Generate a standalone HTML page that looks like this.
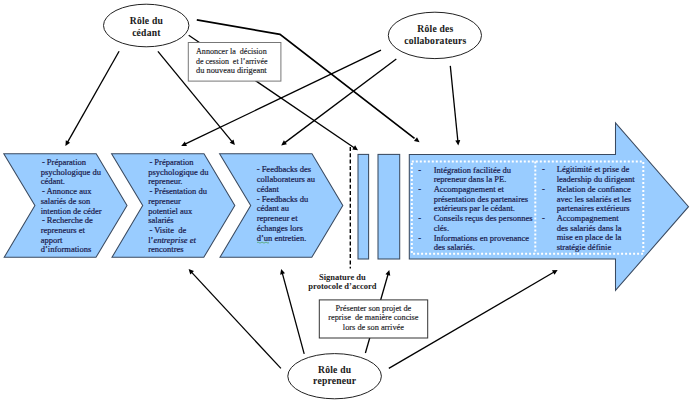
<!DOCTYPE html>
<html><head><meta charset="utf-8"><style>
html,body{margin:0;padding:0;background:#fff;width:692px;height:402px;overflow:hidden}
svg{display:block;font-family:"Liberation Serif",serif}
</style></head><body>
<svg width="692" height="402" viewBox="0 0 692 402">
<rect width="692" height="402" fill="#fff"/>
<polygon points="409.3,154.5 615.5,154.5 615.5,123 688.5,206.7 615.5,290.4 615.5,259 409.3,259" fill="#99ccff" stroke="#3a4a60" stroke-width="1.05" stroke-linejoin="miter"/>
<polygon points="3.8,153.7 96.2,153.7 127,205.5 96,257.3 4.2,257.3 34.9,205.5" fill="#99ccff" stroke="#3a4a60" stroke-width="1.05" stroke-linejoin="miter"/>
<polygon points="111.6,153.7 204.0,153.7 234.8,205.5 203.8,257.3 112.0,257.3 142.7,205.5" fill="#99ccff" stroke="#3a4a60" stroke-width="1.05" stroke-linejoin="miter"/>
<polygon points="219.60000000000002,153.7 312.0,153.7 342.8,205.5 311.8,257.3 220.0,257.3 250.70000000000002,205.5" fill="#99ccff" stroke="#3a4a60" stroke-width="1.05" stroke-linejoin="miter"/>
<rect x="358" y="154.4" width="10.6" height="104.6" fill="#99ccff" stroke="#3a4a60" stroke-width="1.05"/>
<rect x="378" y="154.4" width="21.7" height="104.6" fill="#99ccff" stroke="#3a4a60" stroke-width="1.05"/>
<rect x="411.8" y="161.4" width="231.5" height="92.3" fill="none" stroke="#fff" stroke-width="2" stroke-dasharray="2 2"/>
<line x1="535.3" y1="161.4" x2="535.3" y2="253.7" stroke="#fff" stroke-width="2" stroke-dasharray="2 2"/>
<line x1="350.3" y1="147" x2="350.3" y2="268.5" stroke="#000" stroke-width="1.4" stroke-dasharray="4 2.3"/>
<ellipse cx="146.2" cy="25.5" rx="42.7" ry="21.3" fill="#fff" stroke="#222" stroke-width="1"/>
<ellipse cx="434.9" cy="35.4" rx="46.6" ry="23.2" fill="#fff" stroke="#222" stroke-width="1"/>
<ellipse cx="334.6" cy="376.2" rx="46.8" ry="22.6" fill="#fff" stroke="#222" stroke-width="1"/>
<line x1="119.1" y1="51.3" x2="67.47" y2="142.35" stroke="#000" stroke-width="1.3"/><polygon points="65.4,146 65.79,140.24 70.14,142.71" fill="#000"/>
<line x1="157.9" y1="51.3" x2="232.24" y2="141.85" stroke="#000" stroke-width="1.3"/><polygon points="234.9,145.1 229.67,142.67 233.53,139.49" fill="#000"/>
<line x1="188.7" y1="35.2" x2="354.53" y2="147.94" stroke="#000" stroke-width="1.3"/><polygon points="358,150.3 352.29,149.44 355.11,145.31" fill="#000"/>
<polyline points="196.8,19.9 280,34.3 414.5,138.3" fill="none" stroke="#000" stroke-width="1.7"/>
<line x1="280" y1="34.3" x2="416.28" y2="139.73" stroke="#000" stroke-width="0.1"/><polygon points="419.6,142.3 413.96,141.10 417.02,137.14" fill="#000"/>
<line x1="381" y1="50.2" x2="184.99" y2="144.18" stroke="#000" stroke-width="1.3"/><polygon points="181.2,146 184.81,141.50 186.97,146.01" fill="#000"/>
<line x1="396.3" y1="58.9" x2="284.56" y2="142.88" stroke="#000" stroke-width="1.3"/><polygon points="281.2,145.4 283.86,140.28 286.86,144.27" fill="#000"/>
<line x1="450.3" y1="65.9" x2="457.88" y2="141.22" stroke="#000" stroke-width="1.3"/><polygon points="458.3,145.4 455.29,140.48 460.27,139.98" fill="#000"/>
<line x1="280.9" y1="368.4" x2="191.46" y2="272.08" stroke="#000" stroke-width="1.3"/><polygon points="188.6,269 193.97,271.11 190.31,274.51" fill="#000"/>
<line x1="304.2" y1="353.8" x2="282.30" y2="273.05" stroke="#000" stroke-width="1.3"/><polygon points="281.2,269 284.97,273.36 280.15,274.67" fill="#000"/>
<line x1="365.4" y1="353" x2="388.14" y2="274.04" stroke="#000" stroke-width="1.3"/><polygon points="389.3,270 390.26,275.69 385.46,274.31" fill="#000"/>
<line x1="388.8" y1="368.4" x2="554.07" y2="272.02" stroke="#000" stroke-width="1.3"/><polygon points="557.7,269.9 554.47,274.68 551.95,270.36" fill="#000"/>
<rect x="188.3" y="42.5" width="92.6" height="38.6" fill="#fff" stroke="#777" stroke-width="1"/>
<rect x="319.3" y="299.9" width="108.4" height="38.1" fill="#fff" stroke="#333" stroke-width="1"/>
<text x="146.4" y="24.40" font-size="9.6" font-weight="bold" text-anchor="middle" fill="#1a1a1a" stroke="#1a1a1a" stroke-width="0.05" letter-spacing="0.22" xml:space="preserve">Rôle du</text>
<text x="146.4" y="35.90" font-size="9.6" font-weight="bold" text-anchor="middle" fill="#1a1a1a" stroke="#1a1a1a" stroke-width="0.05" letter-spacing="0.22" xml:space="preserve">cédant</text>
<text x="435.4" y="31.90" font-size="9.6" font-weight="bold" text-anchor="middle" fill="#1a1a1a" stroke="#1a1a1a" stroke-width="0.05" letter-spacing="0.22" xml:space="preserve">Rôle des</text>
<text x="435.4" y="43.90" font-size="9.6" font-weight="bold" text-anchor="middle" fill="#1a1a1a" stroke="#1a1a1a" stroke-width="0.05" letter-spacing="0.22" xml:space="preserve">collaborateurs</text>
<text x="334.7" y="372.70" font-size="9.6" font-weight="bold" text-anchor="middle" fill="#1a1a1a" stroke="#1a1a1a" stroke-width="0.05" letter-spacing="0.22" xml:space="preserve">Rôle du</text>
<text x="334.7" y="384.20" font-size="9.6" font-weight="bold" text-anchor="middle" fill="#1a1a1a" stroke="#1a1a1a" stroke-width="0.05" letter-spacing="0.22" xml:space="preserve">repreneur</text>
<text x="342.4" y="279.80" font-size="8.5" font-weight="bold" text-anchor="middle" fill="#222" stroke="#222" stroke-width="0" letter-spacing="0" xml:space="preserve">Signature du</text>
<text x="342.4" y="289.00" font-size="8.5" font-weight="bold" text-anchor="middle" fill="#222" stroke="#222" stroke-width="0" letter-spacing="0" xml:space="preserve">protocole d’accord</text>
<text x="196" y="53.70" font-size="8.2" font-weight="normal" text-anchor="start" fill="#1c1c26" stroke="#1c1c26" stroke-width="0.15" letter-spacing="0" xml:space="preserve" textLength="70.7" lengthAdjust="spacingAndGlyphs">Annoncer la  décision</text>
<text x="196" y="63.50" font-size="8.2" font-weight="normal" text-anchor="start" fill="#1c1c26" stroke="#1c1c26" stroke-width="0.15" letter-spacing="0" xml:space="preserve" textLength="71.5" lengthAdjust="spacingAndGlyphs">de cession  et l’arrivée</text>
<text x="196" y="73.30" font-size="8.2" font-weight="normal" text-anchor="start" fill="#1c1c26" stroke="#1c1c26" stroke-width="0.15" letter-spacing="0" xml:space="preserve" textLength="70.7" lengthAdjust="spacingAndGlyphs">du nouveau dirigeant</text>
<text x="373.4" y="311.00" font-size="8.3" font-weight="normal" text-anchor="middle" fill="#1c1c26" stroke="#1c1c26" stroke-width="0.15" letter-spacing="0" xml:space="preserve">Présenter son projet de</text>
<text x="373.4" y="320.35" font-size="8.3" font-weight="normal" text-anchor="middle" fill="#1c1c26" stroke="#1c1c26" stroke-width="0.15" letter-spacing="0" xml:space="preserve">reprise  de manière concise</text>
<text x="373.4" y="329.70" font-size="8.3" font-weight="normal" text-anchor="middle" fill="#1c1c26" stroke="#1c1c26" stroke-width="0.15" letter-spacing="0" xml:space="preserve">lors de son arrivée</text>
<text x="41.900000000000006" y="164.80" font-size="8.5" font-weight="normal" text-anchor="start" fill="#18184a" stroke="#18184a" stroke-width="0.2" letter-spacing="0" xml:space="preserve">- Préparation</text>
<text x="40.7" y="174.54" font-size="8.5" font-weight="normal" text-anchor="start" fill="#18184a" stroke="#18184a" stroke-width="0.2" letter-spacing="0" xml:space="preserve">psychologique du</text>
<text x="40.7" y="184.28" font-size="8.5" font-weight="normal" text-anchor="start" fill="#18184a" stroke="#18184a" stroke-width="0.2" letter-spacing="0" xml:space="preserve">cédant.</text>
<text x="41.900000000000006" y="194.02" font-size="8.5" font-weight="normal" text-anchor="start" fill="#18184a" stroke="#18184a" stroke-width="0.2" letter-spacing="0" xml:space="preserve">- Annonce aux</text>
<text x="40.7" y="203.76" font-size="8.5" font-weight="normal" text-anchor="start" fill="#18184a" stroke="#18184a" stroke-width="0.2" letter-spacing="0" xml:space="preserve">salariés de son</text>
<text x="40.7" y="213.50" font-size="8.5" font-weight="normal" text-anchor="start" fill="#18184a" stroke="#18184a" stroke-width="0.2" letter-spacing="0" xml:space="preserve">intention de céder</text>
<text x="41.900000000000006" y="223.24" font-size="8.5" font-weight="normal" text-anchor="start" fill="#18184a" stroke="#18184a" stroke-width="0.2" letter-spacing="0" xml:space="preserve">- Recherche de</text>
<text x="40.7" y="232.98" font-size="8.5" font-weight="normal" text-anchor="start" fill="#18184a" stroke="#18184a" stroke-width="0.2" letter-spacing="0" xml:space="preserve">repreneurs et</text>
<text x="40.7" y="242.72" font-size="8.5" font-weight="normal" text-anchor="start" fill="#18184a" stroke="#18184a" stroke-width="0.2" letter-spacing="0" xml:space="preserve">apport</text>
<text x="40.7" y="252.46" font-size="8.5" font-weight="normal" text-anchor="start" fill="#18184a" stroke="#18184a" stroke-width="0.2" letter-spacing="0" xml:space="preserve">d’informations</text>
<text x="149.39999999999998" y="164.80" font-size="8.5" font-weight="normal" text-anchor="start" fill="#18184a" stroke="#18184a" stroke-width="0.2" letter-spacing="0" xml:space="preserve">- Préparation</text>
<text x="148.2" y="174.54" font-size="8.5" font-weight="normal" text-anchor="start" fill="#18184a" stroke="#18184a" stroke-width="0.2" letter-spacing="0" xml:space="preserve">psychologique du</text>
<text x="148.2" y="184.28" font-size="8.5" font-weight="normal" text-anchor="start" fill="#18184a" stroke="#18184a" stroke-width="0.2" letter-spacing="0" xml:space="preserve">repreneur.</text>
<text x="149.39999999999998" y="194.02" font-size="8.5" font-weight="normal" text-anchor="start" fill="#18184a" stroke="#18184a" stroke-width="0.2" letter-spacing="0" xml:space="preserve">- Présentation du</text>
<text x="148.2" y="203.76" font-size="8.5" font-weight="normal" text-anchor="start" fill="#18184a" stroke="#18184a" stroke-width="0.2" letter-spacing="0" xml:space="preserve">repreneur</text>
<text x="148.2" y="213.50" font-size="8.5" font-weight="normal" text-anchor="start" fill="#18184a" stroke="#18184a" stroke-width="0.2" letter-spacing="0" xml:space="preserve">potentiel aux</text>
<text x="148.2" y="223.24" font-size="8.5" font-weight="normal" text-anchor="start" fill="#18184a" stroke="#18184a" stroke-width="0.2" letter-spacing="0" xml:space="preserve">salariés</text>
<text x="149.39999999999998" y="232.98" font-size="8.5" font-weight="normal" text-anchor="start" fill="#18184a" stroke="#18184a" stroke-width="0.2" letter-spacing="0" xml:space="preserve">- Visite  de</text>
<text x="148.2" y="242.72" font-size="8.5" font-weight="normal" text-anchor="start" fill="#18184a" stroke="#18184a" stroke-width="0.2" letter-spacing="0" xml:space="preserve">l’<tspan font-style="italic">entreprise et</tspan></text>
<text x="148.2" y="252.46" font-size="8.5" font-weight="normal" text-anchor="start" fill="#18184a" stroke="#18184a" stroke-width="0.2" letter-spacing="0" xml:space="preserve">rencontres</text>
<text x="256.7" y="172.30" font-size="8.5" font-weight="normal" text-anchor="start" fill="#18184a" stroke="#18184a" stroke-width="0.2" letter-spacing="0" xml:space="preserve">- Feedbacks des</text>
<text x="256.7" y="182.07" font-size="8.5" font-weight="normal" text-anchor="start" fill="#18184a" stroke="#18184a" stroke-width="0.2" letter-spacing="0" xml:space="preserve">collaborateurs au</text>
<text x="256.7" y="191.84" font-size="8.5" font-weight="normal" text-anchor="start" fill="#18184a" stroke="#18184a" stroke-width="0.2" letter-spacing="0" xml:space="preserve">cédant</text>
<text x="256.7" y="201.61" font-size="8.5" font-weight="normal" text-anchor="start" fill="#18184a" stroke="#18184a" stroke-width="0.2" letter-spacing="0" xml:space="preserve">- Feedbacks du</text>
<text x="256.7" y="211.38" font-size="8.5" font-weight="normal" text-anchor="start" fill="#18184a" stroke="#18184a" stroke-width="0.2" letter-spacing="0" xml:space="preserve">cédant au</text>
<text x="256.7" y="221.15" font-size="8.5" font-weight="normal" text-anchor="start" fill="#18184a" stroke="#18184a" stroke-width="0.2" letter-spacing="0" xml:space="preserve">repreneur et</text>
<text x="256.7" y="230.92" font-size="8.5" font-weight="normal" text-anchor="start" fill="#18184a" stroke="#18184a" stroke-width="0.2" letter-spacing="0" xml:space="preserve">échanges lors</text>
<text x="256.7" y="240.69" font-size="8.5" font-weight="normal" text-anchor="start" fill="#18184a" stroke="#18184a" stroke-width="0.2" letter-spacing="0" xml:space="preserve">d’un entretien.</text>
<path d="M257,242.6 q1,-1 2,0 t2,0 t2,0 t2,0 t2,0 t2,0" fill="none" stroke="#3a9a3a" stroke-width="0.6"/>
<text x="433.7" y="172.60" font-size="8.5" font-weight="normal" text-anchor="start" fill="#18184a" stroke="#18184a" stroke-width="0.2" letter-spacing="0" xml:space="preserve">Intégration facilitée du</text>
<text x="433.7" y="182.32" font-size="8.5" font-weight="normal" text-anchor="start" fill="#18184a" stroke="#18184a" stroke-width="0.2" letter-spacing="0" xml:space="preserve">repreneur dans la PE.</text>
<text x="433.7" y="192.04" font-size="8.5" font-weight="normal" text-anchor="start" fill="#18184a" stroke="#18184a" stroke-width="0.2" letter-spacing="0" xml:space="preserve">Accompagnement et</text>
<text x="433.7" y="201.76" font-size="8.5" font-weight="normal" text-anchor="start" fill="#18184a" stroke="#18184a" stroke-width="0.2" letter-spacing="0" xml:space="preserve">présentation des partenaires</text>
<text x="433.7" y="211.48" font-size="8.5" font-weight="normal" text-anchor="start" fill="#18184a" stroke="#18184a" stroke-width="0.2" letter-spacing="0" xml:space="preserve">extérieurs par le cédant.</text>
<text x="433.7" y="221.20" font-size="8.5" font-weight="normal" text-anchor="start" fill="#18184a" stroke="#18184a" stroke-width="0.2" letter-spacing="0" xml:space="preserve">Conseils reçus des personnes</text>
<text x="433.7" y="230.92" font-size="8.5" font-weight="normal" text-anchor="start" fill="#18184a" stroke="#18184a" stroke-width="0.2" letter-spacing="0" xml:space="preserve">clés.</text>
<text x="433.7" y="240.64" font-size="8.5" font-weight="normal" text-anchor="start" fill="#18184a" stroke="#18184a" stroke-width="0.2" letter-spacing="0" xml:space="preserve">Informations en provenance</text>
<text x="433.7" y="250.36" font-size="8.5" font-weight="normal" text-anchor="start" fill="#18184a" stroke="#18184a" stroke-width="0.2" letter-spacing="0" xml:space="preserve">des salariés.</text>
<text x="418.2" y="172.60" font-size="8.5" font-weight="normal" text-anchor="start" fill="#18184a" stroke="#18184a" stroke-width="0.2" letter-spacing="0" xml:space="preserve">-</text>
<text x="418.2" y="192.04" font-size="8.5" font-weight="normal" text-anchor="start" fill="#18184a" stroke="#18184a" stroke-width="0.2" letter-spacing="0" xml:space="preserve">-</text>
<text x="418.2" y="221.20" font-size="8.5" font-weight="normal" text-anchor="start" fill="#18184a" stroke="#18184a" stroke-width="0.2" letter-spacing="0" xml:space="preserve">-</text>
<text x="418.2" y="240.64" font-size="8.5" font-weight="normal" text-anchor="start" fill="#18184a" stroke="#18184a" stroke-width="0.2" letter-spacing="0" xml:space="preserve">-</text>
<text x="556.7" y="172.40" font-size="8.5" font-weight="normal" text-anchor="start" fill="#18184a" stroke="#18184a" stroke-width="0.2" letter-spacing="0" xml:space="preserve">Légitimité et prise de</text>
<text x="556.7" y="182.12" font-size="8.5" font-weight="normal" text-anchor="start" fill="#18184a" stroke="#18184a" stroke-width="0.2" letter-spacing="0" xml:space="preserve">leadership du dirigeant</text>
<text x="556.7" y="191.84" font-size="8.5" font-weight="normal" text-anchor="start" fill="#18184a" stroke="#18184a" stroke-width="0.2" letter-spacing="0" xml:space="preserve">Relation de confiance</text>
<text x="556.7" y="201.56" font-size="8.5" font-weight="normal" text-anchor="start" fill="#18184a" stroke="#18184a" stroke-width="0.2" letter-spacing="0" xml:space="preserve">avec les salariés et les</text>
<text x="556.7" y="211.28" font-size="8.5" font-weight="normal" text-anchor="start" fill="#18184a" stroke="#18184a" stroke-width="0.2" letter-spacing="0" xml:space="preserve">partenaires extérieurs</text>
<text x="556.7" y="221.00" font-size="8.5" font-weight="normal" text-anchor="start" fill="#18184a" stroke="#18184a" stroke-width="0.2" letter-spacing="0" xml:space="preserve">Accompagnement</text>
<text x="556.7" y="230.72" font-size="8.5" font-weight="normal" text-anchor="start" fill="#18184a" stroke="#18184a" stroke-width="0.2" letter-spacing="0" xml:space="preserve">des salariés dans la</text>
<text x="556.7" y="240.44" font-size="8.5" font-weight="normal" text-anchor="start" fill="#18184a" stroke="#18184a" stroke-width="0.2" letter-spacing="0" xml:space="preserve">mise en place de la</text>
<text x="556.7" y="250.16" font-size="8.5" font-weight="normal" text-anchor="start" fill="#18184a" stroke="#18184a" stroke-width="0.2" letter-spacing="0" xml:space="preserve">stratégie définie</text>
<text x="542" y="172.40" font-size="8.5" font-weight="normal" text-anchor="start" fill="#18184a" stroke="#18184a" stroke-width="0.2" letter-spacing="0" xml:space="preserve">-</text>
<text x="542" y="191.84" font-size="8.5" font-weight="normal" text-anchor="start" fill="#18184a" stroke="#18184a" stroke-width="0.2" letter-spacing="0" xml:space="preserve">-</text>
<text x="542" y="221.00" font-size="8.5" font-weight="normal" text-anchor="start" fill="#18184a" stroke="#18184a" stroke-width="0.2" letter-spacing="0" xml:space="preserve">-</text>
</svg>
</body></html>
